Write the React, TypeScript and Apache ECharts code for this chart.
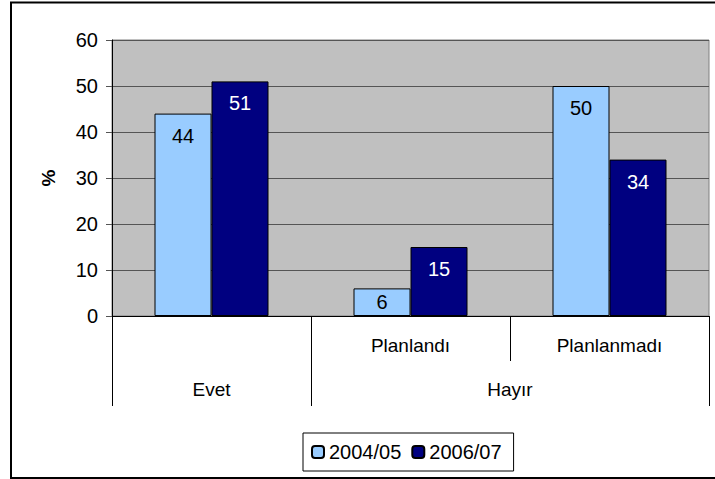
import React, { useEffect, useRef } from "react";
import * as echarts from "echarts";

const categories = ["Evet", "Planlandı", "Planlanmadı"];
const groupLabels = ["Evet", "Hayır"];
const seriesNames = ["2004/05", "2006/07"];
const values0405 = [44, 6, 50];
const values0607 = [51, 15, 34];
const yTicks = [0, 10, 20, 30, 40, 50, 60];

const FONT = "'Liberation Sans', Arial, sans-serif";

export default function App() {
  const ref = useRef<HTMLDivElement>(null);
  useEffect(() => {
    if (!ref.current) return;
    const chart = echarts.init(ref.current, null, { renderer: "svg" });
    const mkData = (vals: number[]) =>
      vals.map((v) => ({
        value: v,
        label: { position: v < 10 ? "inside" : "insideTop" },
      }));
    chart.setOption({
      animation: false,
      textStyle: { fontFamily: FONT },
      graphic: [
        {
          type: "rect",
          shape: { x: 11, y: 2.5, width: 720, height: 475.5 },
          style: { fill: "none", stroke: "#000", lineWidth: 2 },
          silent: true,
        },
      ],
      grid: {
        left: 112,
        top: 40,
        right: 6,
        bottom: 163,
        show: true,
        backgroundColor: "#C0C0C0",
        borderColor: "#808080",
        borderWidth: 1,
      },
      legend: {
        data: seriesNames,
        left: 303,
        top: 433,
        orient: "horizontal",
        padding: [9, 12, 9, 8],
        itemGap: 10,
        itemWidth: 12,
        itemHeight: 12,
        borderColor: "#000",
        borderWidth: 1,
        textStyle: { fontFamily: FONT, fontSize: 20, color: "#000" },
      },
      xAxis: [
        {
          type: "category",
          data: categories,
          position: "bottom",
          axisLine: { show: true, lineStyle: { color: "#000", width: 1 } },
          axisTick: { show: true, length: 45, lineStyle: { color: "#000" } },
          axisLabel: {
            fontFamily: FONT,
            fontSize: 19,
            color: "#000",
            margin: 20,
            formatter: (v: string) => (v === categories[0] ? "" : v),
          },
          splitLine: { show: false },
        },
        {
          type: "value",
          min: 0,
          max: 3,
          position: "bottom",
          axisLine: { show: false },
          axisTick: {
            show: true,
            length: 90,
            customValues: [0, 1, 3],
            lineStyle: { color: "#000" },
          },
          axisLabel: {
            show: true,
            customValues: [0.5, 2],
            fontFamily: FONT,
            fontSize: 19,
            color: "#000",
            margin: 64,
            formatter: (v: number) => (v < 1 ? groupLabels[0] : groupLabels[1]),
          },
          splitLine: { show: false },
        },
      ],
      yAxis: {
        type: "value",
        min: 0,
        max: 60,
        interval: 10,
        name: "%",
        nameLocation: "middle",
        nameRotate: 90,
        nameGap: 54,
        nameTextStyle: { fontFamily: FONT, fontSize: 19, fontWeight: "bold", color: "#000" },
        axisLine: { show: true, lineStyle: { color: "#000" } },
        axisTick: { show: true, length: 6, lineStyle: { color: "#555" } },
        axisLabel: {
          fontFamily: FONT,
          fontSize: 20,
          color: "#000",
          margin: 14,
          formatter: (v: number) => (yTicks.includes(v) ? String(v) : ""),
        },
        splitLine: { show: true, lineStyle: { color: "#555", width: 1 } },
      },
      series: [
        {
          name: seriesNames[0],
          type: "bar",
          xAxisIndex: 0,
          data: mkData(values0405),
          barWidth: 57,
          barGap: "0%",
          itemStyle: { color: "#99CCFF", borderColor: "#000", borderWidth: 1 },
          label: {
            show: true,
            distance: 12,
            fontFamily: FONT,
            fontSize: 20,
            color: "#000",
          },
        },
        {
          name: seriesNames[1],
          type: "bar",
          xAxisIndex: 0,
          data: mkData(values0607),
          barWidth: 57,
          barGap: "0%",
          itemStyle: { color: "#000080", borderColor: "#000", borderWidth: 1 },
          label: {
            show: true,
            distance: 12,
            fontFamily: FONT,
            fontSize: 20,
            color: "#fff",
          },
        },
      ],
    });
    return () => chart.dispose();
  }, []);
  return (
    <div
      ref={ref}
      style={{ position: "fixed", left: 0, top: 0, width: 715, height: 479, background: "#fff" }}
    />
  );
}
